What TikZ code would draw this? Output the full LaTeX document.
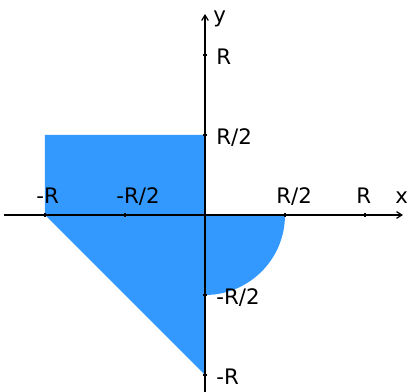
\documentclass[tikz,border=0pt]{standalone}
\usepackage{fontspec}
\setmainfont{DejaVu Sans}
\usepackage{xcolor}
\usetikzlibrary{arrows.meta}
\definecolor{regionblue}{RGB}{51,153,255}

\begin{document}
\begin{tikzpicture}[x=120pt, y=120pt,
  axis/.style={-{Straight Barb[length=4pt,width=5pt]}, line width=0.9pt},
  tickmark/.style={line width=0.9pt},
  lbl/.style={anchor=base west, inner sep=0pt, font=\fontsize{16}{19}\selectfont},
  region/.style={fill=regionblue}
]
\useasboundingbox (-1.28125,-1.10625) rectangle (1.26875,1.34375);
% Shaded region
\fill[region] (-1,0.5) -- (0,0.5) -- (0,-1) -- (-1,0) -- cycle;
\fill[region] (0,0) -- (0.5,0) arc[start angle=0, end angle=-90, radius=0.5] -- cycle;
% Axes
\coordinate (xmin) at (-1.256,0);
\coordinate (xmax) at (1.2375,0);
\coordinate (ymin) at (0,-1.10625);
\coordinate (ymax) at (0,1.256);
\draw[axis] (xmin) -- (xmax);
\draw[axis] (ymin) -- (ymax);
% Ticks
\draw[tickmark] (-1,-0.0125)   -- (-1,0.0125);
\draw[tickmark] (-0.5,-0.0125) -- (-0.5,0.0125);
\draw[tickmark] (0.5,-0.0125)  -- (0.5,0.0125);
\draw[tickmark] (1,-0.0125)    -- (1,0.0125);
\draw[tickmark] (-0.0125,1)    -- (0.0125,1);
\draw[tickmark] (-0.0125,0.5)  -- (0.0125,0.5);
\draw[tickmark] (-0.0125,-0.5) -- (0.0125,-0.5);
\draw[tickmark] (-0.0125,-1)   -- (0.0125,-1);
% Labels on the x axis
\node[lbl] (xm1)  at (-1.056,0.069) {-R};
\node[lbl] (xm2)  at (-0.556,0.069) {-R/2};
\node[lbl] (xp2)  at (0.444,0.069)  {R/2};
\node[lbl] (xp1)  at (0.944,0.069)  {R};
\node[lbl] (xlab) at (1.188,0.069)  {x};
% Labels on the y axis
\node[lbl] (yp1)  at (0.069,0.9375)  {R};
\node[lbl] (yp2)  at (0.069,0.4375)  {R/2};
\node[lbl] (ym2)  at (0.069,-0.5625) {-R/2};
\node[lbl] (ym1)  at (0.069,-1.0625) {-R};
\node[lbl] (ylab) at (0.05,1.2)      {y};
\end{tikzpicture}
\end{document}
